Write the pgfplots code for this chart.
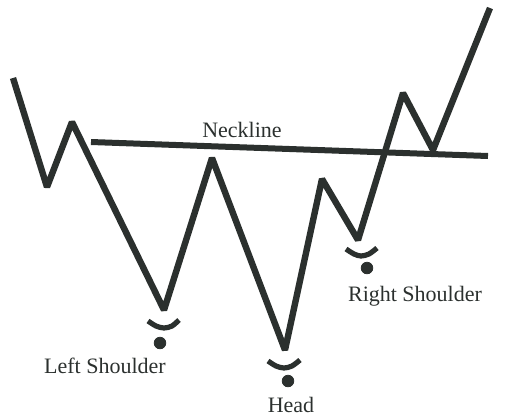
\documentclass[border=0pt]{standalone}
\usepackage{pgfplots}
\pgfplotsset{compat=1.18}
\usepackage{fontspec}
\setmainfont{Liberation Serif}
\definecolor{ink}{HTML}{2B302E}
\begin{document}
\begin{tikzpicture}
\begin{axis}[
  scale only axis, width=255pt, height=209.5pt,
  xmin=0, xmax=510, ymin=0, ymax=419, y dir=reverse,
  hide axis, clip=false]
% price path
\addplot[ink, line width=3.2pt, line join=miter, miter limit=2, line cap=butt] coordinates {
 (13,78) (47,187) (72,122) (164,310) (212,158) (285,350) (322,179) (358,240) (403,93) (433,150) (490,8)};
% neckline
\addplot[ink, line width=3pt] coordinates {(91,142) (488,156)};
% smiles
\addplot[ink, line width=2.6pt, smooth] coordinates {(148,321) (156,326) (164,328) (172,326) (179,320)};
\addplot[ink, line width=2.6pt, smooth] coordinates {(268,361) (276,366) (284,368) (292,366) (300,360)};
\addplot[ink, line width=2.6pt, smooth] coordinates {(346,249) (354,254) (361,256) (369,254) (377,248)};
% dots
\addplot[only marks, mark=*, mark size=2.9pt, ink] coordinates {(160,343) (288,381) (367,268)};
% labels
\node[text=ink, font=\fontsize{11}{12}\selectfont] at (axis cs:242,130) {Neckline};
\node[text=ink, font=\fontsize{11}{12}\selectfont] at (axis cs:105,366) {Left Shoulder};
\node[text=ink, font=\fontsize{11}{12}\selectfont] at (axis cs:291,405) {Head};
\node[text=ink, font=\fontsize{11}{12}\selectfont] at (axis cs:415,296) {Right Shoulder};
\end{axis}
\pgfresetboundingbox
\useasboundingbox (current axis.south west) rectangle (current axis.north east);
\end{tikzpicture}
\end{document}
